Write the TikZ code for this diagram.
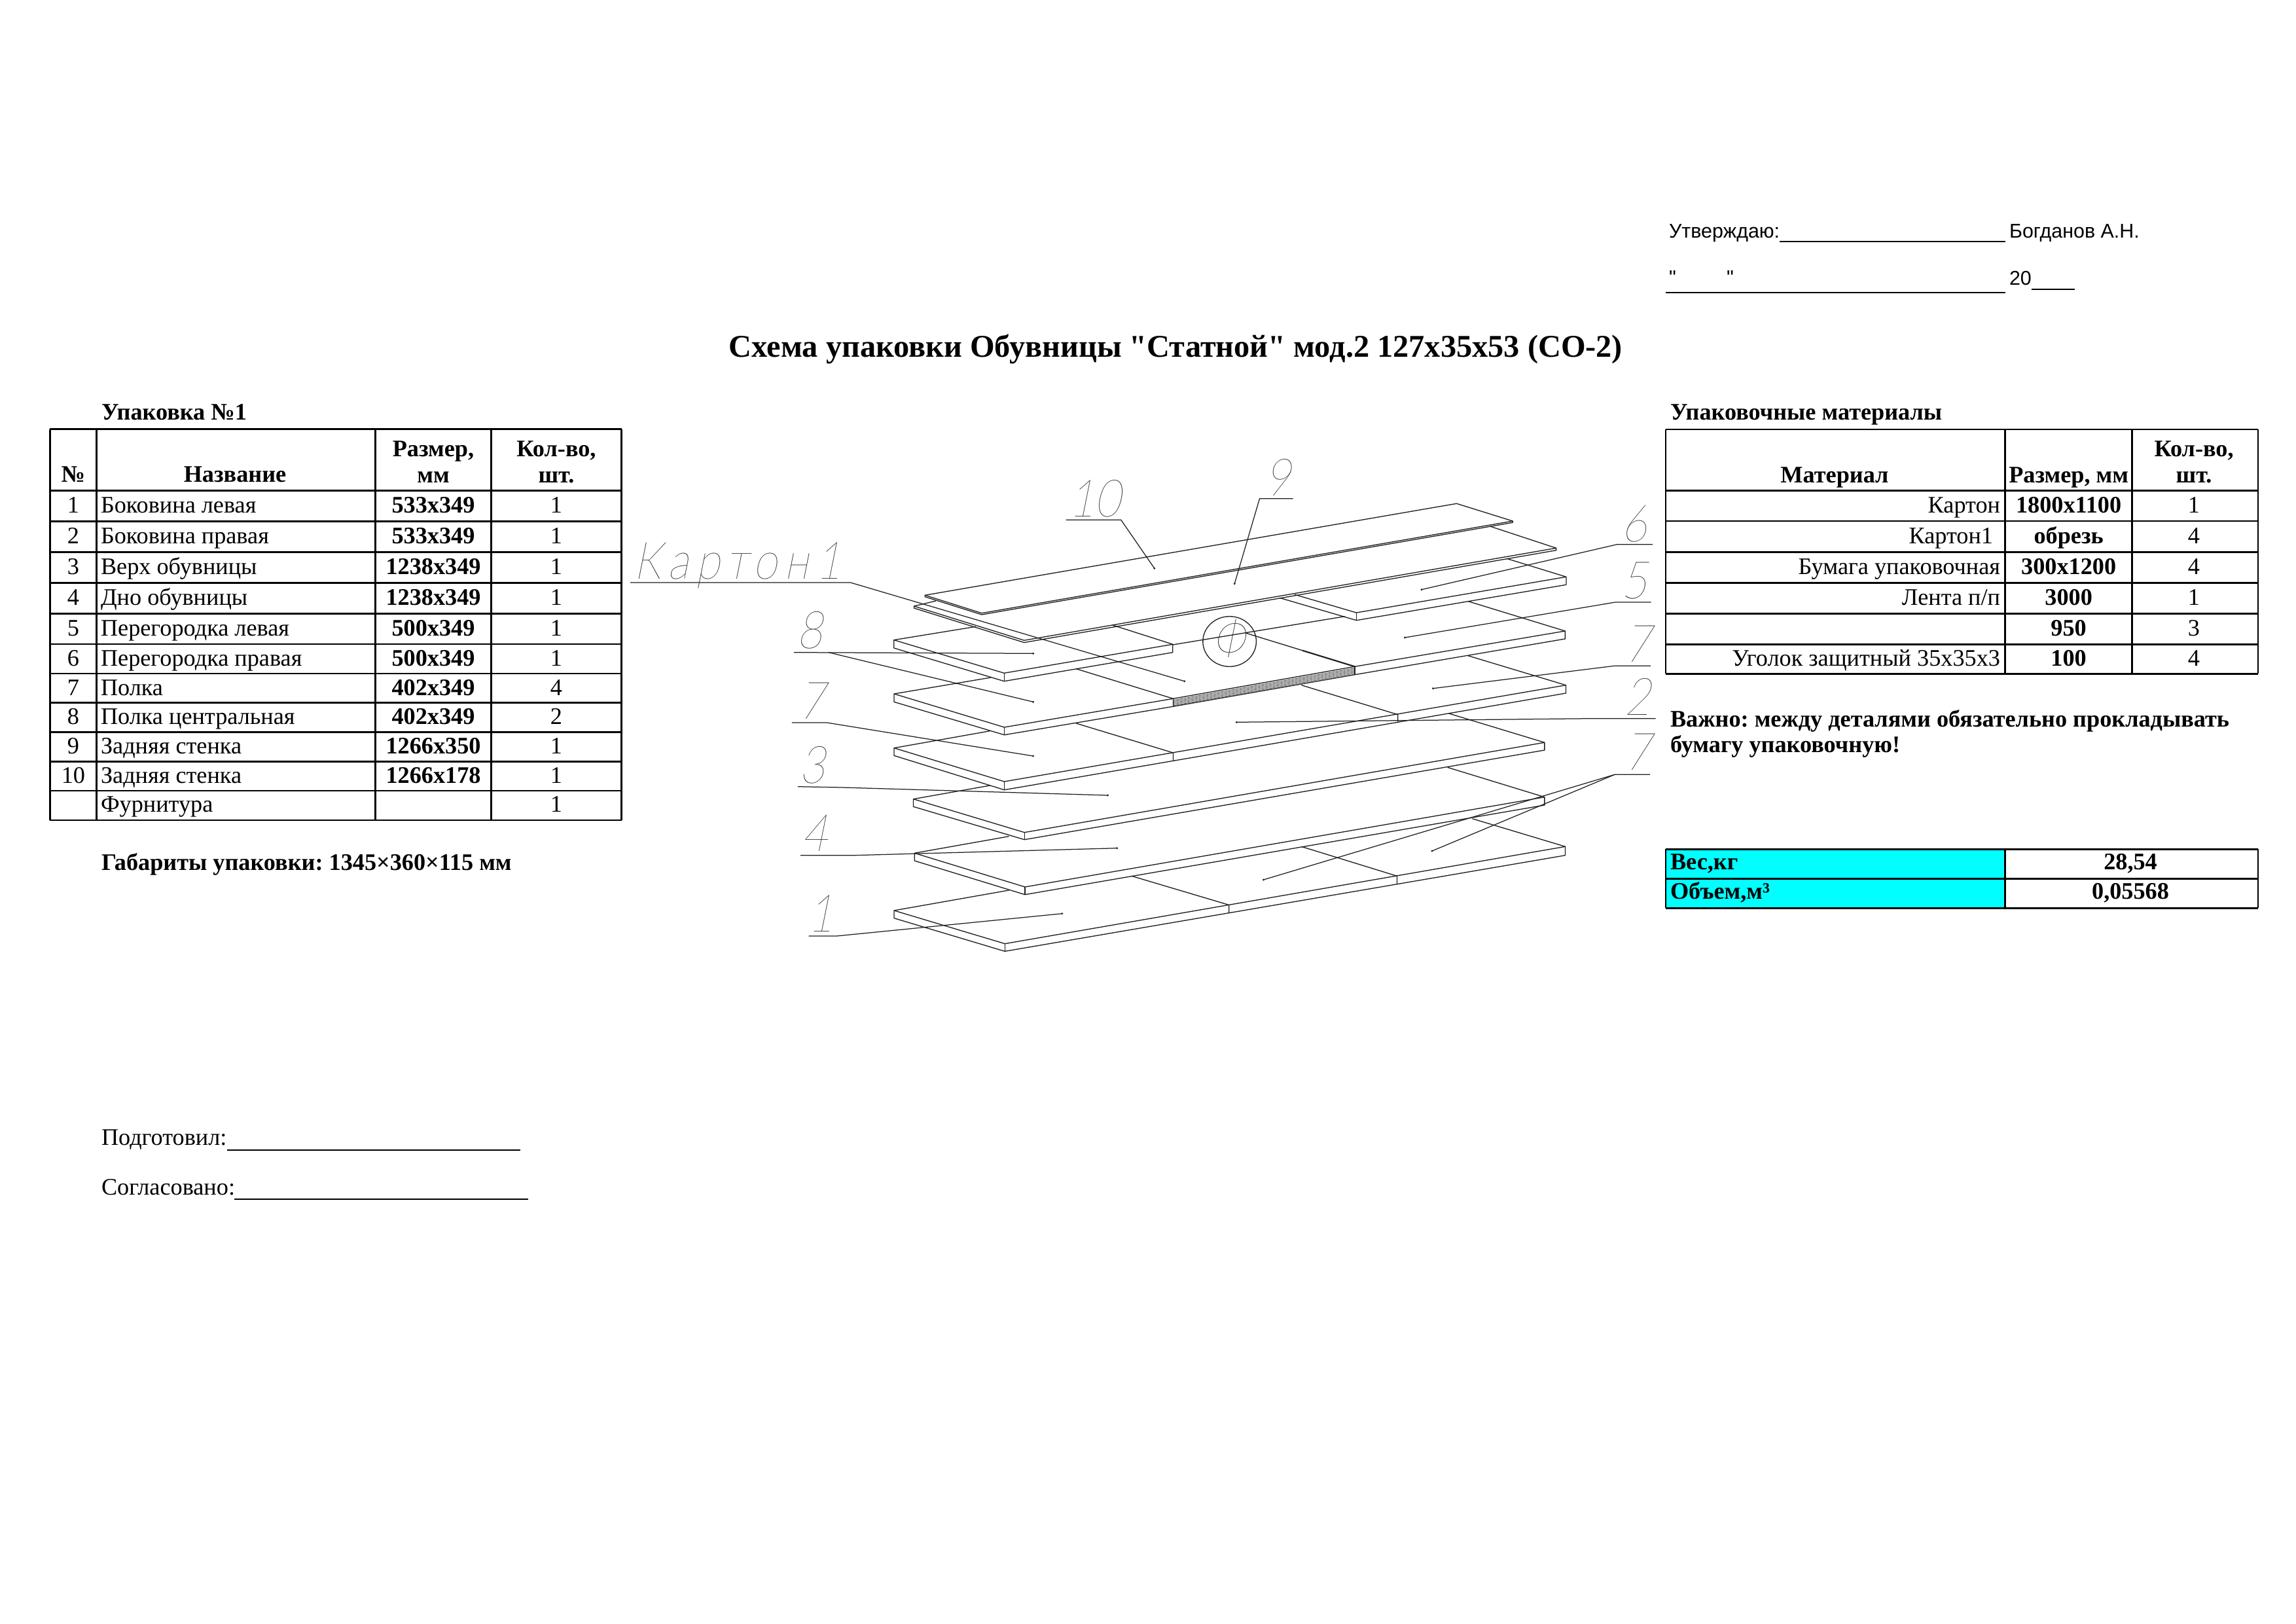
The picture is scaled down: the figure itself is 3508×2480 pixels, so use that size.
\documentclass[tikz,border=0pt]{standalone}
\usepackage{fontspec}
\setmainfont{Liberation Serif}
\newfontfamily\plainserif{Liberation Serif}
\newfontfamily\sansf{Liberation Sans}
\newfontfamily\cadf[FakeSlant=0.2,FakeStretch=0.85]{Lato Thin}
\newfontfamily\cadwide[FakeSlant=0.2,FakeStretch=0.85,LetterSpace=14]{Lato Thin}
\frenchspacing
\newcommand{\bodysz}{\fontsize{8.7}{10}\selectfont\frenchspacing}
\definecolor{cadgray}{gray}{0.12}
\definecolor{panelcyan}{RGB}{0,255,255}
\tikzset{
  txt/.style={inner sep=0pt,outer sep=0pt,font=\bodysz,text=black},
  tl/.style={txt,anchor=base west},
  tc/.style={txt,anchor=base},
  tr/.style={txt,anchor=base east},
  tb/.style={txt,anchor=base,font=\bodysz\bfseries},
  tbl/.style={txt,anchor=base west,font=\bodysz\bfseries},
  sans/.style={txt,anchor=base west,font=\fontsize{7.3}{9}\selectfont\sansf},
  grid/.style={draw=black,line width=0.6pt},
  cad/.style={draw=cadgray,line width=0.32pt,line join=round},
  lead/.style={draw=cadgray,line width=0.3pt},
  cadtxt/.style={inner sep=0pt,outer sep=0pt,anchor=base,text=cadgray,font=\fontsize{19}{20}\selectfont\cadf},
  under/.style={draw=black,line width=0.5pt}
}
\begin{document}
\begin{tikzpicture}[x=0.24pt,y=-0.24pt]
\useasboundingbox (0,0) rectangle (3508,2480);
\fill[white] (0,0) rectangle (3508,2480);

% ---------- approval block
\node[sans] (appr) at (2550,363.4) {Утверждаю:};
\draw[under] (2719,368.6) -- (3063.6,368.6);
\node[sans] (bogd) at (3070,363.4) {Богданов А.Н.};
\node[sans] (qa) at (2550,434.7) {"};
\node[sans] (qb) at (2638,434.7) {"};
\draw[under] (2545,447.4) -- (3063.6,447.4);
\node[sans] (yr) at (3070,435) {20};
\draw[under] (3103.6,441.7) -- (3170,441.7);

% ---------- title
\node[txt,anchor=base,font=\fontsize{11.6}{14}\selectfont\plainserif\bfseries] (title) at (1796.5,545) {Схема упаковки Обувницы "Статной" мод.2 127х35х53 (СО-2)};

% ---------- left table
\node[tbl] (t1cap) at (155,641) {Упаковка №1};
\foreach \y in {655.7,749.3,796.3,843.3,890.4,937.4,983.9,1029,1073.6,1118.7,1163.3,1207.9,1252.9}
  \draw[grid] (76.4,\y) -- (949.7,\y);
\foreach \x in {76.4,147.4,573.5,750.7,949.7}
  \draw[grid] (\x,655.7) -- (\x,1252.9);
\node[tb] (h1a) at (111.9,736) {№};
\node[tb] (h1b) at (359,736) {Название};
\node[tb] (h1c) at (662,697) {Размер,};
\node[tb] (h1d) at (662,737) {мм};
\node[tb] (h1e) at (850,697) {Кол-во,};
\node[tb] (h1f) at (850,737) {шт.};
\foreach \i/\yy/\nm/\sz/\q in {
  1/783/Боковина левая/533x349/1,
  2/830/Боковина правая/533x349/1,
  3/877/Верх обувницы/1238x349/1,
  4/924/Дно обувницы/1238x349/1,
  5/971/Перегородка левая/500x349/1,
  6/1017/Перегородка правая/500x349/1,
  7/1062/Полка/402x349/4,
  8/1106/Полка центральная/402x349/2,
  9/1151/Задняя стенка/1266x350/1,
  10/1196/Задняя стенка/1266x178/1}{
  \node[tc] (r\i a) at (111.9,\yy) {\i};
  \node[tl] (r\i b) at (154,\yy) {\nm};
  \node[tb] (r\i c) at (662,\yy) {\sz};
  \node[tc] (r\i d) at (850,\yy) {\q};
}
\node[tl] (r11b) at (154,1240) {Фурнитура};
\node[tc] (r11d) at (850,1240) {1};
\node[tbl] (gab) at (155,1329.5) {Габариты упаковки: 1345×360×115 мм};

% ---------- signatures
\node[tl] (podg) at (155,1749.3) {Подготовил:};
\draw[under] (346.5,1756.7) -- (795,1756.7);
\node[tl] (sogl) at (155,1825) {Согласовано:};
\draw[under] (358.4,1832.3) -- (806.6,1832.3);

% ---------- right table
\node[tbl] (t2cap) at (2552,641) {Упаковочные материалы};
\foreach \y in {656,749.4,796.2,843.4,890.5,937.3,984.5,1029.3}
  \draw[grid] (2545,\y) -- (3449.7,\y);
\foreach \x in {2545,3063.6,3257.6,3449.7}
  \draw[grid] (\x,656) -- (\x,1029.3);
\node[tb] (h2a) at (2803,737) {Материал};
\node[tb] (h2b) at (3160.6,737) {Размер, мм};
\node[tb] (h2c) at (3352,697) {Кол-во,};
\node[tb] (h2d) at (3352,737) {шт.};
\node[tr] (m1a) at (3056,783.5) {Картон};
\node[tb] (m1b) at (3160.6,783.5) {1800x1100};
\node[tc] (m1c) at (3352,783.5) {1};
\node[tr] (m2a) at (3045,830.5) {Картон1};
\node[tb] (m2b) at (3160.6,830.5) {обрезь};
\node[tc] (m2c) at (3352,830.5) {4};
\node[tr] (m3a) at (3056,877.5) {Бумага упаковочная};
\node[tb] (m3b) at (3160.6,877.5) {300x1200};
\node[tc] (m3c) at (3352,877.5) {4};
\node[tr] (m4a) at (3056,924.5) {Лента п/п};
\node[tb] (m4b) at (3160.6,924.5) {3000};
\node[tc] (m4c) at (3352,924.5) {1};
\node[tb] (m5b) at (3160.6,971) {950};
\node[tc] (m5c) at (3352,971) {3};
\node[tr] (m6a) at (3056,1017) {Уголок защитный 35х35х3};
\node[tb] (m6b) at (3160.6,1017) {100};
\node[tc] (m6c) at (3352,1017) {4};

% ---------- note
\node[tbl] (nb1) at (2552,1110.7) {Важно: между деталями обязательно прокладывать};
\node[tbl] (nb2) at (2552,1149) {бумагу упаковочную!};

% ---------- weight table
\fill[panelcyan] (2545,1297.3) rectangle (3063.6,1387.3);
\foreach \y in {1297.3,1342.3,1387.3}
  \draw[grid] (2545,\y) -- (3449.7,\y);
\foreach \x in {2545,3063.6,3449.7}
  \draw[grid] (\x,1297.3) -- (\x,1387.3);
\node[tbl] (wa) at (2552,1328) {Вес,кг};
\node[tb] (wb) at (3255,1328) {28,54};
\node[tbl] (va) at (2552,1373) {Объем,м³};
\node[tb] (vb) at (3255,1373) {0,05568};

% ---------- exploded drawing
% part 10
\draw[cad] (1413.3,909.3) -- (2225.5,769.3) -- (2311.2,796) -- (2311.2,798.3) -- (1500,939) -- (1413.3,911.7) -- cycle;
\draw[cad] (1413.3,909.3) -- (1500,936.7) -- (2311.2,796);
% part 9
\draw[cad] (2276.5,804) -- (2377.6,837.3) -- (2377.6,840.7) -- (1564.8,981.6) -- (1396.4,929) -- (1396.4,926) -- (1430,918);
\draw[cad] (1396.4,926) -- (1564.8,978.3) -- (2377.6,837.3);
% part 6
\draw[cad] (2302,853.3) -- (2392.9,881.3) -- (2392.9,893.3) -- (2072.4,947.7) -- (1955,913.3);
\draw[cad] (2392.9,881.3) -- (2072.4,936) -- (1978,908.3);
\draw[cad] (2072.4,936) -- (2072.4,947.7);
% part 5 with the stacked centre
\draw[cad] (2243.4,918.7) -- (2391.3,964) -- (2391.3,976) -- (2069.9,1030.7);
\draw[cad] (2391.3,964) -- (2069.9,1018.3);
\draw[cad] (1904,967.3) -- (2069.9,1018.3);
\draw[cad,line width=0.5pt] (1990,993.8) -- (2069.9,1018.3) -- (2069.9,1030.7);
\draw[cad] (1791.8,985) -- (2054.6,941.7);
\foreach \d in {2.4,4.4,6.4,8.4,10.4}
  \draw[cad,line width=0.17pt] (1792.4,1067.3+\d) -- (2069.9,1018.3+\d);
% part 8
\draw[cad] (1490.8,957.3) -- (1365.8,977.7) -- (1365.8,990) -- (1534.2,1040.7) -- (1791.8,996.7) -- (1791.8,984.3) -- (1700,955);
\draw[cad] (1365.8,977.7) -- (1534.2,1028.3) -- (1791.8,984.3);
\draw[cad] (1534.2,1028.3) -- (1534.2,1040.7);
% level 2 left
\draw[cad] (1513.8,1035) -- (1366,1060) -- (1366,1072.3) -- (1534.4,1122.7) -- (1792.4,1079.3) -- (2069.9,1030.7);
\draw[cad] (1792.4,1079.3) -- (1792.4,1067.3) -- (1644,1021.7);
\draw[cad] (1366,1060) -- (1534.4,1111) -- (1792.4,1067.3) -- (2069.9,1018.3);
\draw[cad] (1534.4,1111) -- (1534.4,1122.7);
% level 3
\draw[cad] (1512.5,1116.7) -- (1366,1142.7) -- (1366,1154.3) -- (1534.4,1206.7) -- (2135.7,1103.3) -- (2392.4,1059) -- (2392.4,1046.7) -- (2242.9,1001.7);
\draw[cad] (1366,1142.7) -- (1534.4,1194) -- (2392.4,1046.7);
\draw[cad] (1534.4,1194) -- (1534.4,1206.7);
\draw[cad] (1644.2,1105) -- (1792.4,1150) -- (1792.4,1162.7);
\draw[cad] (1988.4,1046.7) -- (2135.7,1091.7) -- (2135.7,1103.3);
% level 4
\draw[cad] (1512.5,1200) -- (1395.5,1220.7) -- (1395.5,1232.3) -- (1565.2,1282.7) -- (2359.8,1146) -- (2359.8,1134.3) -- (2213.8,1090);
\draw[cad] (1395.5,1220.7) -- (1565.2,1271.7) -- (2359.8,1134.3);
\draw[cad] (1565.2,1271.7) -- (1565.2,1282.7);
% level 5
\draw[cad] (1541.5,1277.7) -- (1397.3,1303.3) -- (1397.3,1315) -- (1566,1366.7) -- (2359.8,1230) -- (2359.8,1217.7) -- (2211.6,1172.3);
\draw[cad] (1397.3,1303.3) -- (1566,1355) -- (2359.8,1217.7);
\draw[cad] (1566,1355) -- (1566,1366.7);
% level 6
\draw[cad] (1541.5,1360) -- (1366,1391) -- (1366,1402.7) -- (1535.3,1453.3) -- (2391.5,1306.7) -- (2391.5,1293.3) -- (2249.6,1250.7);
\draw[cad] (1366,1391) -- (1535.3,1441.7) -- (2391.5,1293.3);
\draw[cad] (1535.3,1441.7) -- (1535.3,1453.3);
\draw[cad] (1729,1338.3) -- (1877.7,1382.5) -- (1877.7,1395);
\draw[cad] (1988.4,1293.3) -- (2134.4,1338.3) -- (2134.4,1350.7);

% circled F
\draw[cad] (1878.6,980) ellipse [x radius=40.8,y radius=38.3];
\node[cadtxt] (fi) at (1877,1004) {Ф};

% ---------- labels and leaders
\node[cadtxt] (l10) at (1672,789) {10};
\draw[lead] (1628.6,794.3) -- (1712.8,794.3) -- (1763.8,868.3);
\fill[cadgray] (1763.8,868.3) circle (1.6);
\node[cadtxt,font=\fontsize{19}{20}\selectfont\cadwide] (lk) at (1127,884) {Картон1};
\draw[lead] (962.8,890) -- (1299.5,890) -- (1809.7,1040.7);
\fill[cadgray] (1809.7,1040.7) circle (1.6);
\node[cadtxt] (l8) at (1237,990.7) {8};
\draw[lead] (1212.8,996.7) -- (1578.6,998.3);
\draw[lead] (1266,996.7) -- (1578.6,1072.3);
\fill[cadgray] (1578.6,998.3) circle (1.6);
\fill[cadgray] (1578.6,1072.3) circle (1.6);
\node[cadtxt] (l7a) at (1240,1098) {7};
\draw[lead] (1209.8,1104) -- (1263.4,1104) -- (1578.6,1155);
\fill[cadgray] (1578.6,1155) circle (1.6);
\node[cadtxt] (l3) at (1241,1196) {3};
\draw[lead] (1218.8,1201.7) -- (1287,1203) -- (1692.4,1215);
\fill[cadgray] (1692.4,1215) circle (1.6);
\node[cadtxt] (l4) at (1245,1300) {4};
\draw[lead] (1223.2,1306.7) -- (1305,1306.7) -- (1706.7,1295.7);
\fill[cadgray] (1706.7,1295.7) circle (1.6);
\node[cadtxt] (l1) at (1254,1423) {1};
\draw[lead] (1235.7,1430) -- (1278,1430) -- (1622.8,1395.7);
\fill[cadgray] (1622.8,1395.7) circle (1.6);
\node[cadtxt] (l9) at (1952,757) {9};
\draw[lead] (1975.5,761.7) -- (1924.5,761.7) -- (1886.2,891.7);
\fill[cadgray] (1886.2,891.7) circle (1.6);
\node[cadtxt] (l6) at (2497,827) {6};
\draw[lead] (2525,831.7) -- (2470.7,831.7) -- (2172,900.7);
\fill[cadgray] (2172,900.7) circle (1.6);
\node[cadtxt] (l5) at (2497,914) {5};
\draw[lead] (2522.7,920) -- (2468,920) -- (2146.4,974);
\fill[cadgray] (2146.4,974) circle (1.6);
\node[cadtxt] (l7b) at (2502,1011) {7};
\draw[lead] (2522,1017.3) -- (2466,1017.3) -- (2189.5,1051.7);
\fill[cadgray] (2189.5,1051.7) circle (1.6);
\node[cadtxt] (l2) at (2502,1092.7) {2};
\draw[lead] (2529.5,1097.7) -- (2430.4,1097.7) -- (1889.3,1103.3);
\fill[cadgray] (1889.3,1103.3) circle (1.6);
\node[cadtxt] (l7c) at (2502,1176.7) {7};
\draw[lead] (2521,1183.3) -- (2467,1183.3) -- (1930.4,1344);
\draw[lead] (2467,1183.3) -- (2188,1300);
\fill[cadgray] (1930.4,1344) circle (1.6);
\fill[cadgray] (2188,1300) circle (1.6);
\end{tikzpicture}
\end{document}
